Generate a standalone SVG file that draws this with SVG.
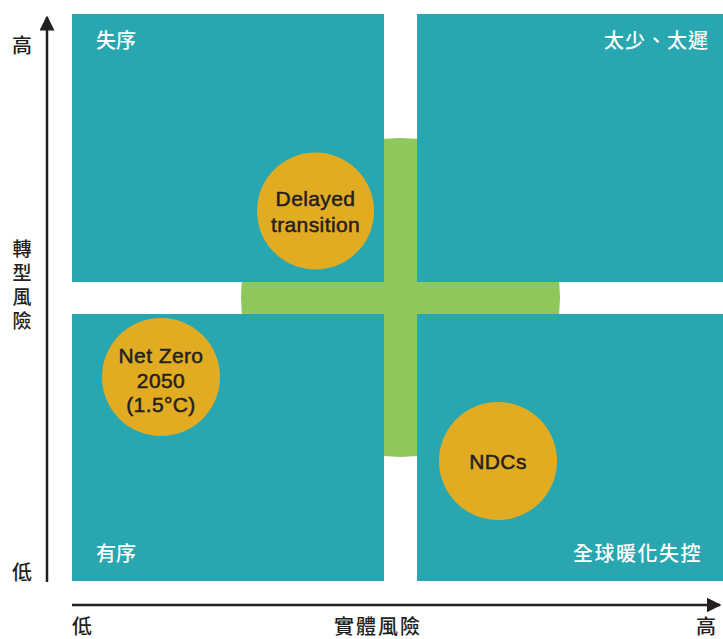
<svg xmlns="http://www.w3.org/2000/svg" width="723" height="639" viewBox="0 0 723 639">
<style>
.q{fill:#29A7B0}
.ql{font-family:"Noto Sans CJK TC","Liberation Sans",sans-serif;font-size:20px;font-weight:500;fill:#fff}
.ax{font-family:"Noto Sans CJK TC","Liberation Sans",sans-serif;font-size:20px;font-weight:500;fill:#231F20}
.vx{font-family:"Noto Sans CJK TC","Liberation Sans",sans-serif;font-size:19px;font-weight:500;fill:#231F20;writing-mode:vertical-rl;letter-spacing:5px}
.bub{fill:#E2AC22}
.bt{font-family:"Liberation Sans",Arial,sans-serif;font-size:21px;fill:#231F20;text-anchor:middle;letter-spacing:0.4px;stroke:#231F20;stroke-width:0.5}
.axis{stroke:#231F20;stroke-width:2.5;fill:none}
</style>
<defs>
<marker id="ah" viewBox="0 0 10 10" refX="9" refY="5" markerWidth="6" markerHeight="6" orient="auto" markerUnits="strokeWidth">
<path d="M0,0 L10,5 L0,10 z" fill="#231F20"/>
</marker>
</defs>
<rect width="723" height="639" fill="#fff"/>
<g id="cross"><circle cx="400.5" cy="297.5" r="159.5" fill="#8FC85A"/></g>
<g id="q-tl"><rect class="q" x="72" y="14" width="312" height="268"/><text class="ql" x="96" y="48">失序</text></g>
<g id="q-tr"><rect class="q" x="417" y="14" width="306" height="268"/><text class="ql" x="709" y="48" text-anchor="end" letter-spacing="1">太少、太遲</text></g>
<g id="q-bl"><rect class="q" x="72" y="314" width="312" height="267"/><text class="ql" x="96" y="561">有序</text></g>
<g id="q-br"><rect class="q" x="417" y="314" width="306" height="267"/><text class="ql" x="702" y="561" text-anchor="end" letter-spacing="1.5">全球暖化失控</text></g>
<g id="delayed"><circle class="bub" cx="315.5" cy="211" r="58.5"/><text class="bt" x="315.5" y="206">Delayed</text><text class="bt" x="315.5" y="232">transition</text></g>
<g id="netzero"><circle class="bub" cx="161" cy="377" r="59"/><text class="bt" x="161" y="363">Net Zero</text><text class="bt" x="161" y="388">2050</text><text class="bt" x="161" y="412">(1.5°C)</text></g>
<g id="ndcs"><circle class="bub" cx="498" cy="461" r="59"/><text class="bt" x="498" y="469">NDCs</text></g>
<g id="connectors">
<line class="axis" x1="47" y1="582" x2="47" y2="17" marker-end="url(#ah)"/>
<line class="axis" x1="72" y1="605" x2="720" y2="605" marker-end="url(#ah)"/>
</g>
<g id="labels">
<text class="ax" x="22" y="53" text-anchor="middle">高</text>
<text class="ax" x="22" y="580" text-anchor="middle">低</text>
<text class="vx" x="22" y="239">轉型風險</text>
<text class="ax" x="82" y="634" text-anchor="middle">低</text>
<text class="ax" x="378" y="634" text-anchor="middle" letter-spacing="2">實體風險</text>
<text class="ax" x="706" y="634" text-anchor="middle">高</text>
</g>
</svg>
